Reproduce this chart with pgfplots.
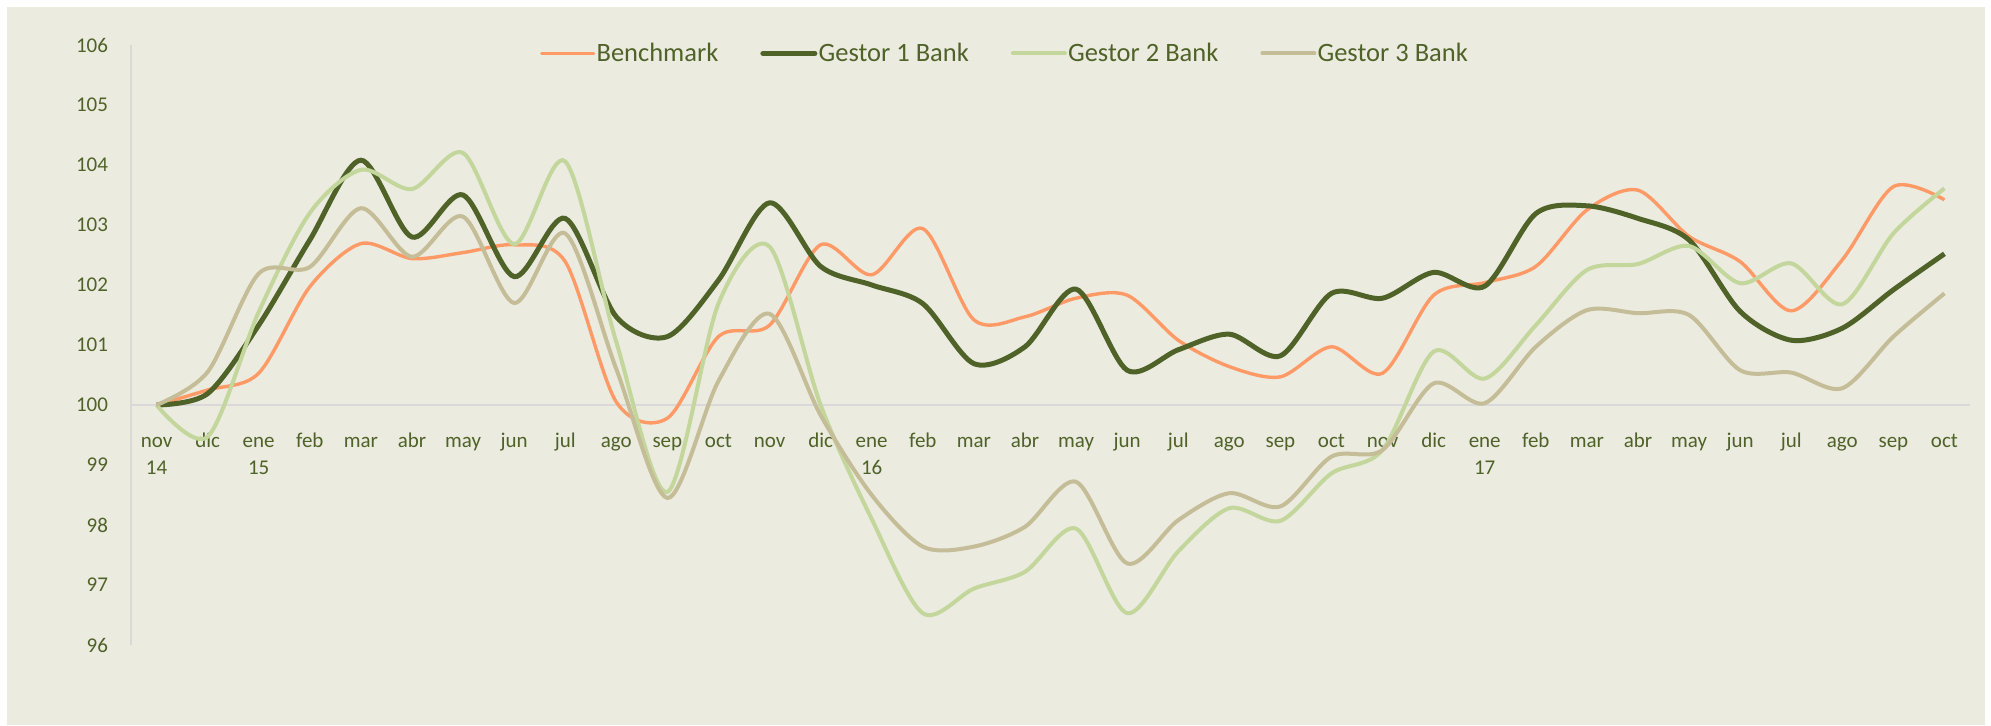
\documentclass[border=0pt]{standalone}
\usepackage{pgfplots}
\pgfplotsset{compat=1.18}
\usepackage{pgfplotstable}
\usepackage{fontspec}
\setmainfont{Carlito}
\definecolor{bg}{HTML}{EBEBE0}
\definecolor{txt}{HTML}{4F6228}
\definecolor{cbench}{HTML}{FF9966}
\definecolor{cg1}{HTML}{4F6228}
\definecolor{cg2}{HTML}{C3D69B}
\definecolor{cg3}{HTML}{C4BD97}
\definecolor{gridc}{HTML}{D9D9D9}
\pgfplotsset{
  mylegimg/.style={legend image code/.code={\draw[##1,line cap=round] (0pt,0pt) -- (26pt,0pt);}}
}
\pgfplotstableread{
i bench g1 g2 g3
0 100 100 100 100
1 100.25 100.19 99.47 100.55
2 100.53 101.33 101.55 102.19
3 101.97 102.75 103.2 102.3
4 102.69 104.08 103.92 103.28
5 102.44 102.8 103.6 102.47
6 102.54 103.5 104.2 103.14
7 102.67 102.14 102.68 101.7
8 102.39 103.11 104.06 102.86
9 100.05 101.47 101.05 100.6
10 99.78 101.14 98.55 98.45
11 101.14 102.08 101.69 100.4
12 101.33 103.37 102.64 101.52
13 102.67 102.31 100.0 99.83
14 102.17 102.0 98.1 98.5
15 102.94 101.69 96.53 97.64
16 101.42 100.69 96.94 97.64
17 101.47 100.97 97.22 97.97
18 101.78 101.93 97.94 98.72
19 101.83 100.58 96.53 97.36
20 101.08 100.92 97.56 98.08
21 100.64 101.18 98.28 98.53
22 100.47 100.82 98.07 98.31
23 100.97 101.86 98.86 99.14
24 100.53 101.78 99.25 99.25
25 101.83 102.21 100.89 100.36
26 102.04 101.98 100.44 100.03
27 102.31 103.19 101.33 100.97
28 103.25 103.32 102.25 101.58
29 103.58 103.11 102.35 101.53
30 102.81 102.75 102.65 101.5
31 102.39 101.56 102.03 100.58
32 101.57 101.08 102.36 100.54
33 102.42 101.28 101.68 100.28
34 103.64 101.92 102.86 101.14
35 103.42 102.52 103.61 101.86
}\data
\newcommand{\tl}[2]{\begin{tabular}[t]{@{}c@{}}#1\\#2\end{tabular}}
\begin{document}
\begin{tikzpicture}
\useasboundingbox (0,0) rectangle (995.5pt,362.5pt);
\fill[white] (0,0) rectangle (995.5pt,362.5pt);
\fill[bg] (3.5pt,0) rectangle (992.5pt,359pt);
\begin{axis}[
  mylegimg,
  at={(65.5pt,40pt)}, anchor=south west,
  scale only axis, width=919.5pt, height=300pt,
  xmin=-0.5, xmax=35.5, ymin=96, ymax=106,
  axis y line*=left, axis x line*=bottom,
  x axis line style={draw=none},
  y axis line style={draw=gridc, line width=0.9pt, -},
  major tick length=0pt,
  ytick={96,97,...,106},
  extra y ticks={100}, extra y tick labels={},
  extra y tick style={grid=major, major grid style={draw=gridc, line width=1pt}},
  xtick={0,...,35},
  xticklabels={\tl{nov}{14},dic,\tl{ene}{15},feb,mar,abr,may,jun,jul,ago,sep,oct,nov,dic,\tl{ene}{16},feb,mar,abr,may,jun,jul,ago,sep,oct,nov,dic,\tl{ene}{17},feb,mar,abr,may,jun,jul,ago,sep,oct},
  xticklabel style={anchor=base, yshift=98.65pt, inner sep=0pt, font=\fontsize{10.5}{13.3}\selectfont, text=txt},
  yticklabel style={anchor=east, inner sep=0pt, xshift=-11.3pt, font=\fontsize{10.5}{13.3}\selectfont, text=txt},
  /pgf/number format/assume math mode=true,
  legend columns=-1,
  legend style={at={(axis description cs:0.2224,0.986)}, anchor=west, draw=none, fill=none,
    inner sep=0pt, outer sep=0pt, font=\fontsize{13.25}{16}\selectfont, text=txt,
    nodes={inner sep=0pt},
    /tikz/every odd column/.append style={column sep=0.6pt},
    /tikz/every even column/.append style={column sep=21pt}},
]
\addplot[cbench, line width=1.7pt, smooth] table[x=i,y=bench] {\data};
\addlegendentry{Benchmark}
\addplot[cg1, line width=2.5pt, smooth] table[x=i,y=g1] {\data};
\addlegendentry{Gestor 1 Bank}
\addplot[cg2, line width=2pt, smooth] table[x=i,y=g2] {\data};
\addlegendentry{Gestor 2 Bank}
\addplot[cg3, line width=2pt, smooth] table[x=i,y=g3] {\data};
\addlegendentry{Gestor 3 Bank}
\end{axis}
\end{tikzpicture}
\end{document}
